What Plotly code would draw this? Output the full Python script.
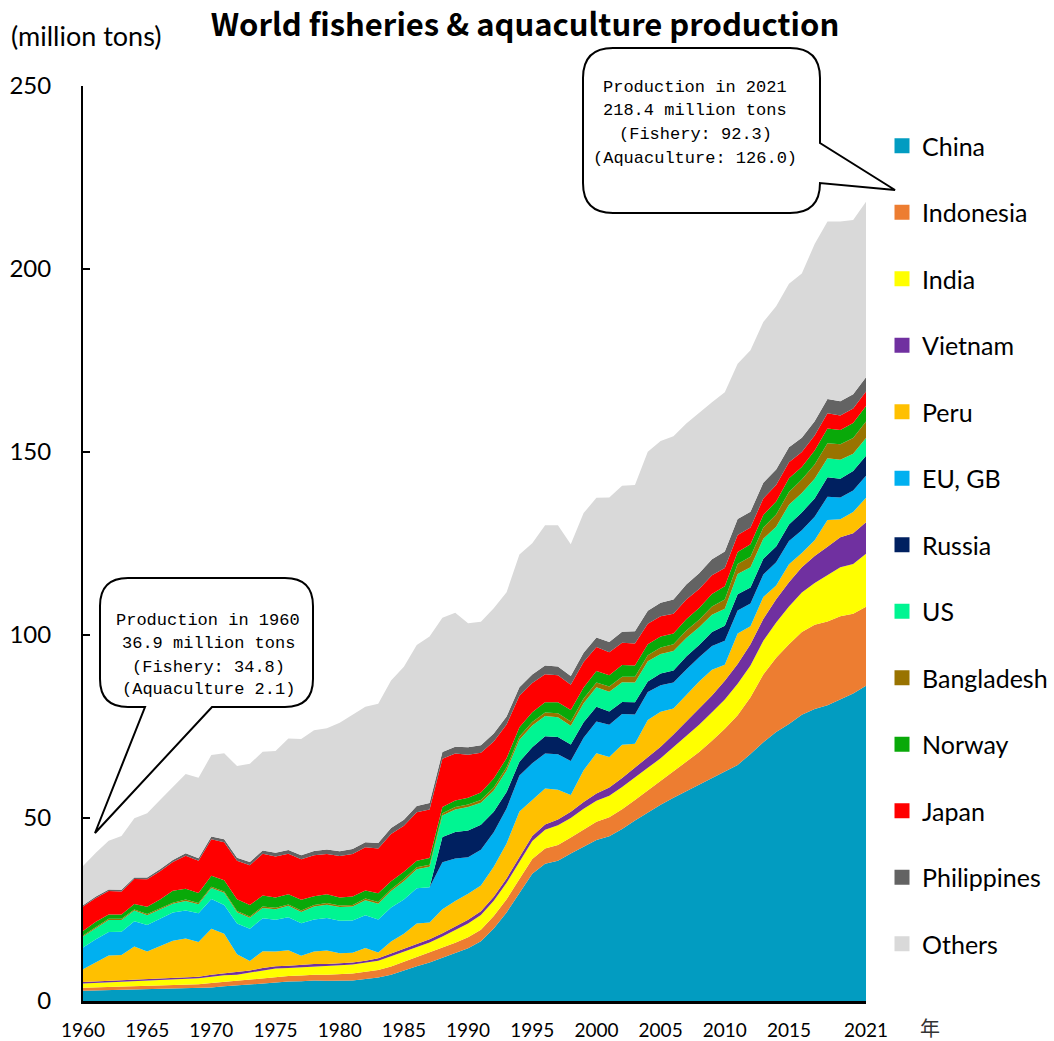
import plotly.graph_objects as go

# ---- data: million tons, capture + aquaculture, 1960-2021 ----
years = list(range(1960, 2022))

china = [2.8, 2.9, 3.0, 3.0, 3.1, 3.2, 3.2, 3.3, 3.4, 3.5,
         3.7, 4.0, 4.3, 4.5, 4.8, 5.2, 5.3, 5.4, 5.6, 5.5,
         5.6, 5.6, 6.0, 6.4, 7.2, 8.4, 9.5, 10.5, 11.8, 13.0,
         14.4, 16.3, 19.8, 24.2, 29.5, 34.8, 37.5, 38.3, 40.3, 42.2,
         44.0, 45.0, 47.0, 49.3, 51.5, 53.6, 55.5, 57.3, 59.0, 61.0,
         62.8, 64.5, 67.5, 70.7, 73.5, 75.7, 78.2, 79.8, 80.8, 82.5,
         84.0, 86.1]
indonesia = [0.8, 0.8, 0.85, 0.9, 0.9, 0.95, 1.0, 1.0, 1.05, 1.1,
             1.2, 1.2, 1.25, 1.3, 1.35, 1.4, 1.5, 1.55, 1.6, 1.7,
             1.8, 1.9, 2.0, 2.1, 2.2, 2.3, 2.4, 2.6, 2.7, 2.9,
             3.0, 3.2, 3.4, 3.6, 3.8, 4.0, 4.2, 4.3, 4.4, 4.7,
             5.0, 5.2, 5.4, 5.6, 6.0, 6.4, 7.1, 8.0, 9.0, 10.1,
             11.6, 13.6, 15.5, 18.5, 20.3, 21.8, 22.6, 23.0, 22.9, 22.6,
             21.8, 21.6]
india = [1.15, 1.2, 1.25, 1.3, 1.35, 1.35, 1.4, 1.5, 1.55, 1.6,
         1.75, 1.85, 1.65, 2.0, 2.25, 2.3, 2.2, 2.3, 2.3, 2.35,
         2.4, 2.45, 2.4, 2.5, 2.85, 2.8, 2.9, 2.9, 3.1, 3.6,
         3.8, 4.0, 4.2, 4.5, 4.7, 4.9, 5.1, 5.4, 5.3, 5.6,
         5.7, 5.9, 6.1, 6.3, 6.2, 6.3, 6.8, 7.2, 7.5, 7.8,
         8.0, 8.6, 8.7, 9.2, 9.6, 10.3, 10.8, 11.4, 12.6, 13.4,
         13.6, 14.5]
vietnam = [0.45, 0.45, 0.45, 0.45, 0.45, 0.45, 0.45, 0.45, 0.45, 0.45,
           0.5, 0.5, 0.55, 0.55, 0.6, 0.6, 0.6, 0.6, 0.6, 0.55,
           0.55, 0.55, 0.6, 0.65, 0.7, 0.75, 0.8, 0.85, 0.9, 0.95,
           1.0, 1.05, 1.1, 1.2, 1.3, 1.35, 1.45, 1.6, 1.7, 1.85,
           2.0, 2.2, 2.4, 2.6, 2.9, 3.2, 3.4, 3.8, 4.3, 4.6,
           5.1, 5.4, 5.8, 6.0, 6.4, 6.6, 6.9, 7.4, 7.8, 8.2,
           8.4, 8.6]
peru = [3.5, 5.3, 6.9, 6.9, 9.1, 7.6, 9.0, 10.2, 10.6, 9.5,
        12.6, 10.8, 5.0, 2.6, 4.6, 4.0, 4.3, 2.5, 3.4, 3.7,
        2.7, 2.7, 3.5, 1.6, 3.3, 4.1, 5.6, 4.6, 6.6, 6.9,
        7.1, 7.0, 8.2, 9.5, 12.5, 10.0, 9.8, 8.1, 4.6, 8.7,
        11.0, 8.4, 9.1, 6.5, 10.2, 9.5, 7.1, 7.3, 7.5, 7.0,
        4.4, 8.3, 4.9, 6.0, 3.7, 4.9, 3.9, 4.3, 7.3, 4.9,
        5.8, 6.7]
eu_gb = [5.9, 6.2, 6.4, 6.4, 6.9, 7.2, 7.4, 7.7, 7.7, 7.8,
         8.1, 7.9, 8.4, 8.8, 9.0, 8.7, 9.0, 8.9, 8.8, 8.9,
         8.9, 8.8, 8.9, 9.0, 9.3, 9.4, 9.6, 9.6, 12.8, 11.6,
         10.0, 9.8, 9.4, 9.6, 9.8, 9.9, 9.6, 9.7, 9.3, 8.9,
         8.7, 8.8, 8.4, 8.0, 7.6, 7.3, 7.1, 7.0, 6.6, 6.5,
         6.5, 6.3, 6.2, 6.1, 6.4, 6.4, 6.2, 6.4, 6.4, 6.0,
         5.9, 6.0]
russia = [0, 0, 0, 0, 0, 0, 0, 0, 0, 0,
          0, 0, 0, 0, 0, 0, 0, 0, 0, 0,
          0, 0, 0, 0, 0, 0, 0, 0, 6.9, 7.2,
          7.3, 6.8, 5.6, 4.5, 3.8, 4.4, 4.7, 4.7, 4.5, 4.2,
          4.0, 3.6, 3.3, 3.3, 2.9, 3.2, 3.3, 3.5, 3.4, 3.8,
          4.1, 4.4, 4.4, 4.3, 4.3, 4.5, 4.9, 5.0, 5.3, 5.1,
          5.3, 5.5]
us = [3.0, 3.1, 3.3, 3.2, 2.9, 2.7, 2.6, 2.4, 2.6, 2.5,
      3.0, 3.3, 3.1, 3.0, 2.8, 2.9, 3.1, 3.1, 3.5, 3.6,
      3.7, 3.8, 4.1, 4.3, 4.5, 5.0, 5.2, 5.6, 5.9, 6.2,
      6.4, 6.0, 5.8, 5.9, 6.0, 5.9, 5.5, 5.4, 5.1, 5.2,
      5.3, 5.4, 5.4, 5.4, 5.5, 5.3, 5.3, 5.1, 4.8, 4.7,
      4.7, 5.6, 5.5, 5.5, 5.4, 5.4, 5.3, 5.4, 5.2, 5.2,
      4.7, 4.8]
bangladesh = [0.3, 0.3, 0.3, 0.3, 0.3, 0.3, 0.3, 0.3, 0.35, 0.35,
              0.35, 0.35, 0.35, 0.35, 0.4, 0.4, 0.4, 0.4, 0.4, 0.45,
              0.45, 0.45, 0.5, 0.5, 0.5, 0.55, 0.55, 0.6, 0.6, 0.65,
              0.7, 0.75, 0.8, 0.85, 0.9, 0.95, 1.0, 1.1, 1.2, 1.3,
              1.35, 1.4, 1.5, 1.6, 1.7, 1.8, 1.9, 2.0, 2.1, 2.3,
              2.5, 2.7, 2.9, 3.1, 3.3, 3.5, 3.7, 3.9, 4.1, 4.2,
              4.3, 4.5]
norway = [1.2, 1.4, 1.2, 1.2, 1.5, 2.0, 2.4, 3.3, 3.0, 2.7,
          3.0, 3.1, 3.2, 3.1, 3.0, 2.8, 2.8, 2.9, 2.4, 2.4,
          2.2, 2.3, 2.2, 2.4, 2.2, 2.0, 1.8, 1.8, 1.7, 1.8,
          1.8, 2.1, 2.5, 2.5, 2.5, 2.7, 2.8, 3.0, 3.1, 3.0,
          3.1, 3.1, 3.2, 3.1, 3.0, 3.0, 2.9, 3.1, 3.2, 3.4,
          3.6, 3.3, 3.4, 3.4, 3.6, 3.7, 3.4, 3.8, 4.0, 3.9,
          4.1, 4.3]
japan = [6.7, 6.5, 6.4, 6.3, 6.8, 7.5, 7.7, 7.8, 9.0, 8.8,
         10.0, 10.4, 10.5, 10.9, 11.4, 11.2, 11.0, 11.1, 11.2, 11.0,
         11.3, 11.6, 11.8, 12.2, 12.9, 12.6, 13.2, 13.3, 13.2, 12.8,
         11.8, 10.8, 10.1, 9.2, 8.6, 8.0, 7.6, 7.4, 6.9, 7.0,
         6.6, 6.3, 6.1, 6.0, 5.6, 5.5, 5.4, 5.4, 5.2, 5.1,
         5.0, 4.6, 4.6, 4.5, 4.5, 4.4, 4.1, 4.1, 4.2, 4.0,
         4.0, 3.9]
philippines = [0.35, 0.37, 0.4, 0.42, 0.45, 0.5, 0.55, 0.6, 0.65, 0.7,
               0.75, 0.8, 0.85, 0.9, 0.95, 1.0, 1.05, 1.1, 1.2, 1.25,
               1.3, 1.35, 1.4, 1.5, 1.6, 1.65, 1.7, 1.75, 1.8, 1.9,
               2.0, 2.1, 2.2, 2.2, 2.3, 2.3, 2.4, 2.4, 2.4, 2.5,
               2.6, 2.8, 3.0, 3.3, 3.5, 3.7, 3.9, 4.1, 4.3, 4.4,
               4.5, 4.4, 4.3, 4.3, 4.2, 4.1, 3.9, 3.9, 3.9, 3.9,
               3.9, 3.9]
world_total = [36.9, 40.5, 43.8, 45.1, 49.9, 51.3, 54.9, 58.5, 62.0, 61.0,
               67.2, 67.7, 64.2, 64.8, 68.1, 68.3, 71.7, 71.6, 74.0, 74.5,
               76.0, 78.2, 80.4, 81.2, 87.6, 91.3, 97.3, 99.6, 104.7, 106.1,
               103.2, 103.6, 107.3, 111.7, 122.0, 125.1, 130.0, 130.0, 124.8, 133.3,
               137.5, 137.6, 140.8, 141.0, 150.1, 153.0, 154.3, 157.8, 160.8, 163.6,
               166.3, 174.1, 177.8, 185.5, 189.8, 196.0, 198.8, 206.8, 213.0, 213.0,
               213.4, 218.4]

series_names = ["China", "Indonesia", "India", "Vietnam", "Peru", "EU, GB", "Russia",
                "US", "Bangladesh", "Norway", "Japan", "Philippines"]
series_values = [china, indonesia, india, vietnam, peru, eu_gb, russia,
                 us, bangladesh, norway, japan, philippines]
series_colors = ["#029CC1", "#ED7D31", "#FFFF00", "#7030A0", "#FFC000", "#00B0F0",
                 "#002060", "#00F592", "#997300", "#09A909", "#FF0000", "#636363"]

# "Others" is the remainder of the world total above the listed countries
others = [round(t - sum(vals), 2) for t, vals in zip(world_total, zip(*series_values))]
series_names.append("Others")
series_values.append(others)
series_colors.append("#D9D9D9")

# ---- geometry helpers (pixel -> paper coordinates) ----
W, H = 1054, 1041
L, R, T, B = 83, 866, 86, 1001


def fx(px):
    return (px - L) / (R - L)


def fy(py):
    return (B - py) / (B - T)


def pt(px, py):
    return f"{fx(px):.5f},{fy(py):.5f}"


def callout(x0, y0, x1, y1, r, side, a, tip, b):
    """Rounded box with a pointed tail on the right or bottom edge."""
    p = [f"M{pt(x0 + r, y0)}", f"L{pt(x1 - r, y0)}", f"Q{pt(x1, y0)} {pt(x1, y0 + r)}"]
    if side == "right":
        p += [f"L{pt(x1, a)}", f"L{pt(*tip)}", f"L{pt(x1, b)}"]
    p += [f"L{pt(x1, y1 - r)}", f"Q{pt(x1, y1)} {pt(x1 - r, y1)}"]
    if side == "bottom":
        p += [f"L{pt(b, y1)}", f"L{pt(*tip)}", f"L{pt(a, y1)}"]
    p += [f"L{pt(x0 + r, y1)}", f"Q{pt(x0, y1)} {pt(x0, y1 - r)}",
          f"L{pt(x0, y0 + r)}", f"Q{pt(x0, y0)} {pt(x0 + r, y0)}", "Z"]
    return " ".join(p)


fig = go.Figure()

for name, vals, col in zip(series_names, series_values, series_colors):
    fig.add_trace(go.Scatter(
        x=years, y=vals, name=name, stackgroup="one", mode="lines",
        line=dict(width=0, color=col), fillcolor=col,
        showlegend=False, hoverinfo="x+y+name"))

# legend entries as square swatches
for name, col in zip(series_names, series_colors):
    fig.add_trace(go.Scatter(
        x=[None], y=[None], mode="markers", name=name, legendgroup=name,
        marker=dict(symbol="square", size=15, color=col), showlegend=True))

label_font = "Lato, Calibri, sans-serif"
mono_font = "Liberation Mono, monospace"

shapes = [
    dict(type="path", xref="paper", yref="paper",
         path=callout(100, 578, 313, 707, 28, "bottom", 145, (95, 833), 212),
         line=dict(color="black", width=2), fillcolor="white", layer="above"),
    dict(type="path", xref="paper", yref="paper",
         path=callout(583, 48, 820, 213, 30, "right", 143, (895, 190), 183),
         line=dict(color="black", width=2), fillcolor="white", layer="above"),
]

annotations = []
for txt, yy in zip(["Production in 1960", "36.9 million tons",
                    "(Fishery: 34.8)", "(Aquaculture 2.1)"], [620, 643, 667, 690]):
    annotations.append(dict(x=fx(208), y=fy(yy), xref="paper", yref="paper",
                            text=txt, showarrow=False, xanchor="center", yanchor="middle",
                            font=dict(family=mono_font, size=17, color="black")))
for txt, yy in zip(["Production in 2021", "218.4 million tons",
                    "(Fishery: 92.3)", "(Aquaculture: 126.0)"], [87, 110, 134, 158]):
    annotations.append(dict(x=fx(695), y=fy(yy), xref="paper", yref="paper",
                            text=txt, showarrow=False, xanchor="center", yanchor="middle",
                            font=dict(family=mono_font, size=17, color="black")))

annotations.append(dict(x=fx(9), y=fy(35), xref="paper", yref="paper",
                        text="(million tons)", showarrow=False,
                        xanchor="left", yanchor="middle",
                        font=dict(family=label_font, size=27, color="black")))
annotations.append(dict(x=fx(930), y=fy(1027), xref="paper", yref="paper",
                        text="年", showarrow=False, xanchor="center", yanchor="middle",
                        font=dict(family="Noto Sans CJK JP", size=20, color="#333333")))

fig.update_layout(
    width=W, height=H,
    margin=dict(l=L, r=W - R, t=T, b=H - B, pad=0, autoexpand=False),
    paper_bgcolor="white", plot_bgcolor="white",
    title=dict(text="<b>World fisheries &amp; aquaculture production</b>",
               x=525 / W, xanchor="center", y=1 - 25 / H, yanchor="middle",
               font=dict(family="Noto Sans CJK JP", size=31, color="black")),
    xaxis=dict(range=[1960, 2021], tickvals=[1960, 1965, 1970, 1975, 1980, 1985, 1990,
                                            1995, 2000, 2005, 2010, 2015, 2021],
               ticktext=["1960", "1965", "1970", "1975", "1980", "1985", "1990",
                         "1995", "2000", "2005", "2010", "2015", "2021"],
               showgrid=False, zeroline=False, showline=True, linecolor="black",
               linewidth=3, ticks="", ticklabelstandoff=10,
               tickfont=dict(family=label_font, size=19, color="black")),
    yaxis=dict(range=[0, 250], tickvals=[0, 50, 100, 150, 200, 250],
               showgrid=False, zeroline=False, showline=True, linecolor="black",
               linewidth=2, ticks="inside", ticklen=7, tickwidth=2, tickcolor="black",
               ticklabelstandoff=25,
               tickfont=dict(family=label_font, size=24, color="black")),
    legend=dict(x=fx(882), y=fy(123), xanchor="left", yanchor="top",
                traceorder="grouped", tracegroupgap=31, itemwidth=30,
                bgcolor="rgba(0,0,0,0)",
                font=dict(family=label_font, size=25, color="black")),
    shapes=shapes,
    annotations=annotations,
    showlegend=True,
)

fig.write_html("out.html")
